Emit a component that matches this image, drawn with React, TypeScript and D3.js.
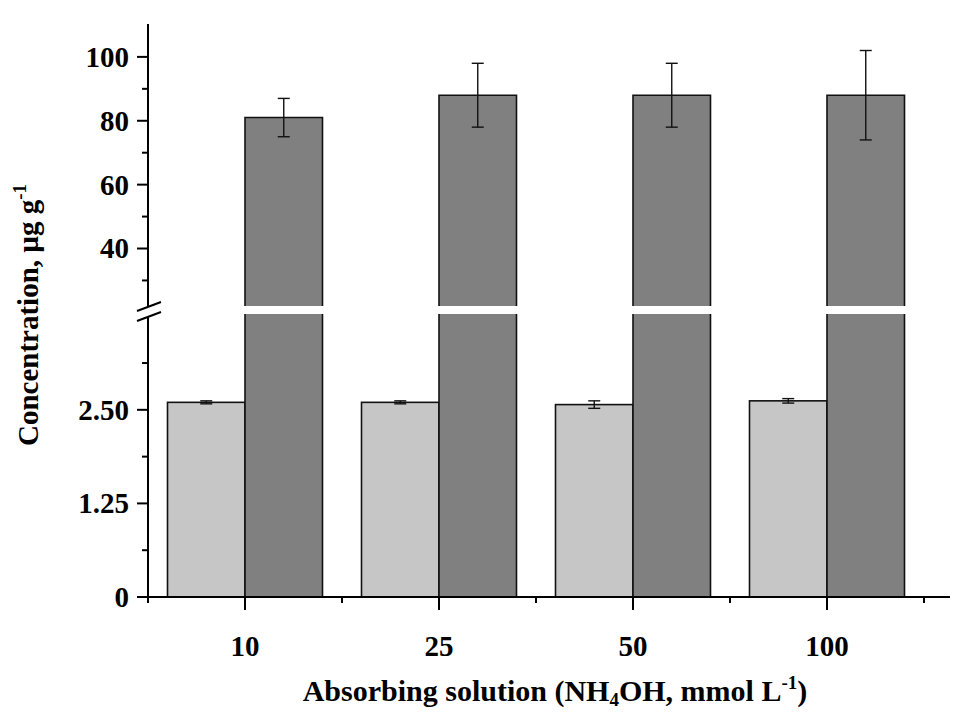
import React from "react";
import * as d3 from "d3";

const categories = ["10", "25", "50", "100"];
const lowSeries = [2.6, 2.6, 2.57, 2.62];
const lowErr = [0.02, 0.02, 0.05, 0.03];
const highSeries = [81, 88, 88, 88];
const highErr = [6, 10, 10, 14];
const lowTicks = [0, 1.25, 2.5];
const lowTickLabels = ["0", "1.25", "2.50"];
const lowMinor = [0.625, 1.875, 3.125];
const highTicks = [40, 60, 80, 100];
const highMinor = [30, 50, 70, 90];

const W = 954;
const H = 713;
const FONT = "'Liberation Serif', 'Times New Roman', serif";

export default function App() {
  const x = d3.scaleBand<string>().domain(categories).range([148, 924]).padding(0);
  const sub = d3.scaleBand<string>().domain(["low", "high"]).range([19.5, 174.5]).padding(0);
  const yLow = d3.scaleLinear().domain([0, 3.78]).range([597, 314]);
  const yHigh = d3.scaleLinear().domain([22, 110.3]).range([306, 24]);
  const axisX = 148;
  const bw = sub.bandwidth();
  const hb = yHigh.range()[0];
  const lt = yLow.range()[1];

  return (
    <svg width={W} height={H} style={{ display: "block", position: "absolute", left: 0, top: 0, background: "#fff" }} fontFamily={FONT}>
      <rect x={0} y={0} width={W} height={H} fill="#fff" />
      {categories.map((c, i) => {
        const x0 = (x(c) as number) + (sub("low") as number);
        const x1 = (x(c) as number) + (sub("high") as number);
        const cxL = x0 + bw / 2;
        const cxH = x1 + bw / 2;
        const yl = yLow(lowSeries[i]);
        const yh = yHigh(highSeries[i]);
        const cap = 6;
        const lTop = yLow(lowSeries[i] + lowErr[i]);
        const lBot = yLow(lowSeries[i] - lowErr[i]);
        const hTop = yHigh(highSeries[i] + highErr[i]);
        const hBot = yHigh(highSeries[i] - highErr[i]);
        return (
          <g key={c}>
            <rect x={x0} y={yl} width={bw} height={yLow(0) - yl} fill="#c6c6c6" stroke="#111" strokeWidth={1.6} />
            <line x1={cxL} x2={cxL} y1={lTop} y2={lBot} stroke="#111" strokeWidth={1.4} />
            <line x1={cxL - cap} x2={cxL + cap} y1={lTop} y2={lTop} stroke="#111" strokeWidth={1.4} />
            <line x1={cxL - cap} x2={cxL + cap} y1={lBot} y2={lBot} stroke="#111" strokeWidth={1.4} />
            <rect x={x1} y={yh} width={bw} height={hb - yh} fill="#808080" />
            <path d={`M${x1},${hb}V${yh}H${x1 + bw}V${hb}`} fill="none" stroke="#111" strokeWidth={1.6} />
            <rect x={x1} y={lt} width={bw} height={yLow(0) - lt} fill="#808080" />
            <path d={`M${x1},${lt}V${yLow(0)}H${x1 + bw}V${lt}`} fill="none" stroke="#111" strokeWidth={1.6} />
            <line x1={cxH} x2={cxH} y1={hTop} y2={hBot} stroke="#111" strokeWidth={1.4} />
            <line x1={cxH - cap} x2={cxH + cap} y1={hTop} y2={hTop} stroke="#111" strokeWidth={1.4} />
            <line x1={cxH - cap} x2={cxH + cap} y1={hBot} y2={hBot} stroke="#111" strokeWidth={1.4} />
          </g>
        );
      })}
      {/* y axis */}
      <line x1={axisX} x2={axisX} y1={yHigh.range()[1]} y2={hb} stroke="#000" strokeWidth={2} />
      <line x1={axisX} x2={axisX} y1={lt + 2} y2={yLow(0) + 1} stroke="#000" strokeWidth={2} />
      <line x1={137} y1={311} x2={161} y2={302} stroke="#000" strokeWidth={2} />
      <line x1={137} y1={321} x2={161} y2={312} stroke="#000" strokeWidth={2} />
      {highTicks.map((t) => (
        <g key={"h" + t}>
          <line x1={axisX - 11} x2={axisX} y1={yHigh(t)} y2={yHigh(t)} stroke="#000" strokeWidth={2} />
          <text x={129} y={yHigh(t)} dy="0.34em" textAnchor="end" fontSize={29} fontWeight="bold">{t}</text>
        </g>
      ))}
      {highMinor.map((t) => (
        <line key={"hm" + t} x1={axisX - 6} x2={axisX} y1={yHigh(t)} y2={yHigh(t)} stroke="#000" strokeWidth={2} />
      ))}
      {lowTicks.map((t, i) => (
        <g key={"l" + t}>
          <line x1={axisX - 11} x2={axisX} y1={yLow(t)} y2={yLow(t)} stroke="#000" strokeWidth={2} />
          <text x={129} y={yLow(t)} dy="0.34em" textAnchor="end" fontSize={29} fontWeight="bold">{lowTickLabels[i]}</text>
        </g>
      ))}
      {lowMinor.map((t) => (
        <line key={"lm" + t} x1={axisX - 6} x2={axisX} y1={yLow(t)} y2={yLow(t)} stroke="#000" strokeWidth={2} />
      ))}
      {/* x axis */}
      <line x1={axisX - 1} x2={950} y1={yLow(0)} y2={yLow(0)} stroke="#000" strokeWidth={2} />
      {categories.map((c) => {
        const cx = (x(c) as number) + x.bandwidth() / 2;
        return (
          <g key={"x" + c}>
            <line x1={cx} x2={cx} y1={yLow(0)} y2={yLow(0) + 13} stroke="#000" strokeWidth={2} />
            <text x={cx} y={656} textAnchor="middle" fontSize={29} fontWeight="bold">{c}</text>
          </g>
        );
      })}
      {[...categories.map((c) => x(c) as number), (x(categories[categories.length - 1]) as number) + x.bandwidth()].map((v, i) => (
        <line key={"xm" + i} x1={v} x2={v} y1={yLow(0)} y2={yLow(0) + 6} stroke="#000" strokeWidth={2} />
      ))}
      {/* axis titles */}
      <text x={555} y={701} textAnchor="middle" fontSize={30} fontWeight="bold">
        Absorbing solution (NH<tspan fontSize={19} dy={5}>4</tspan><tspan dy={-5}>OH, mmol L</tspan><tspan fontSize={19} dy={-12}>-1</tspan><tspan dy={12}>)</tspan>
      </text>
      <text transform="translate(38,315) rotate(-90)" textAnchor="middle" fontSize={29} fontWeight="bold">
        Concentration, µg g<tspan fontSize={19} dy={-12}>-1</tspan>
      </text>
    </svg>
  );
}
